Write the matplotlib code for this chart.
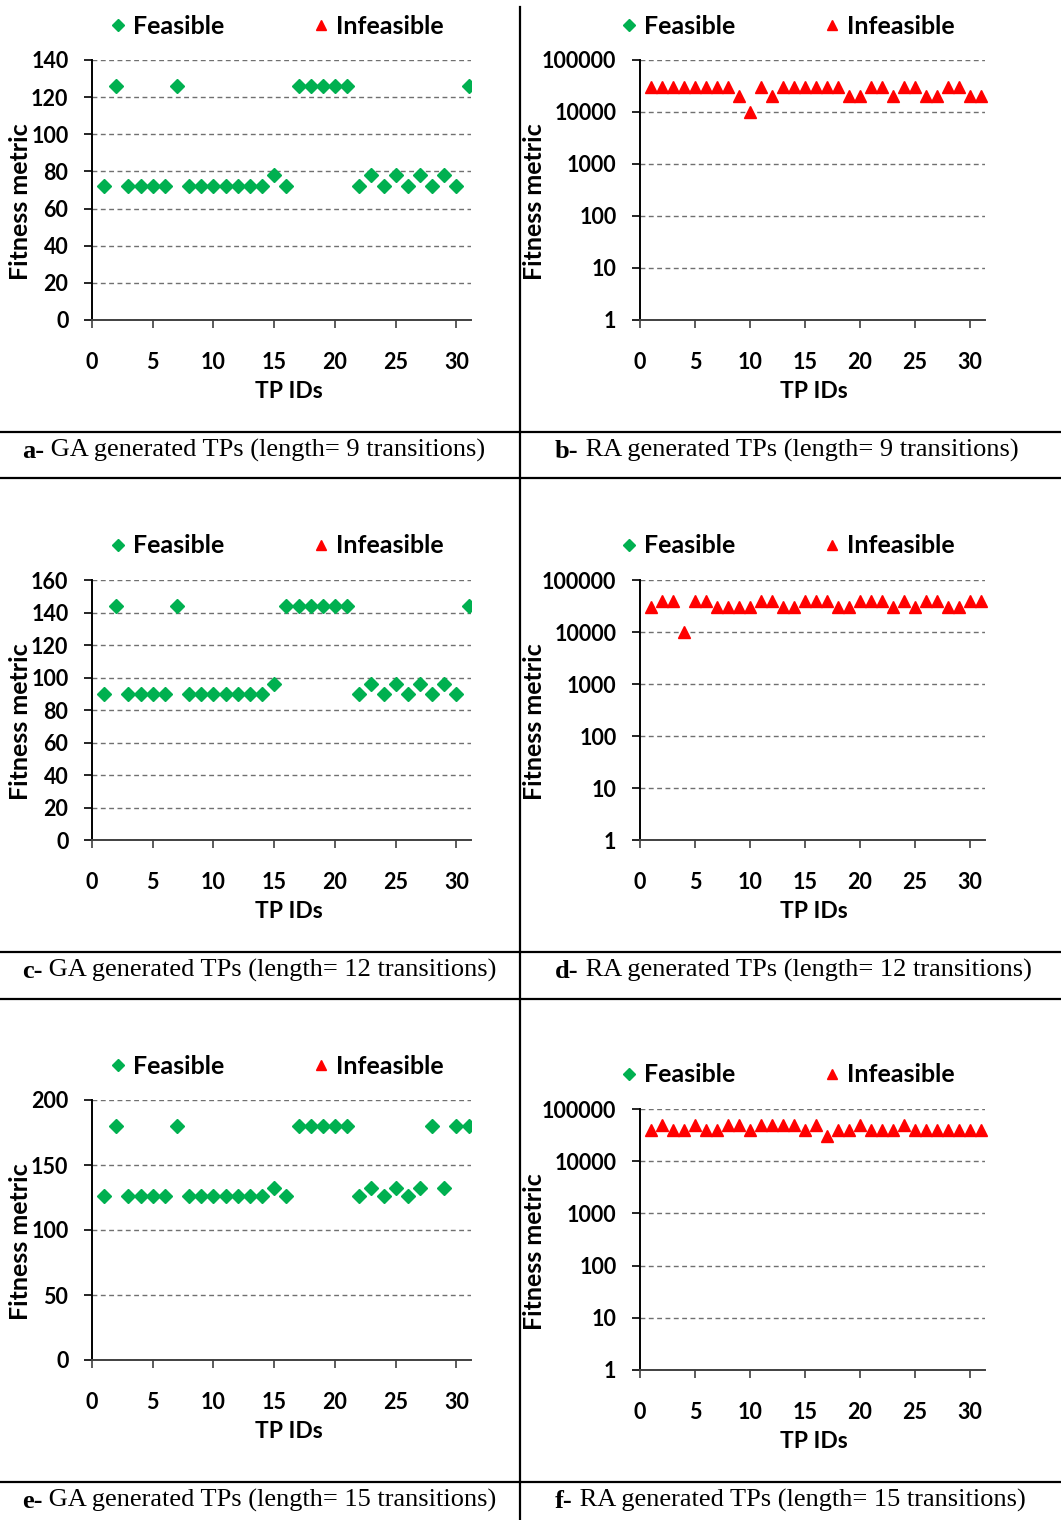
import matplotlib
matplotlib.use("Agg")
import matplotlib.pyplot as plt
from matplotlib.lines import Line2D
from matplotlib.ticker import FixedLocator, FixedFormatter

W, H = 1061, 1520

# ---- data ----
tp_ids = list(range(1, 32))

ga_9 = [72, 126, 72, 72, 72, 72, 126, 72, 72, 72, 72, 72, 72, 72, 78, 72,
        126, 126, 126, 126, 126, 72, 78, 72, 78, 72, 78, 72, 78, 72, 126]
ra_9 = [30000, 30000, 30000, 30000, 30000, 30000, 30000, 30000, 20000, 10000,
        30000, 20000, 30000, 30000, 30000, 30000, 30000, 30000, 20000, 20000,
        30000, 30000, 20000, 30000, 30000, 20000, 20000, 30000, 30000, 20000, 20000]

ga_12 = [90, 144, 90, 90, 90, 90, 144, 90, 90, 90, 90, 90, 90, 90, 96, 144,
         144, 144, 144, 144, 144, 90, 96, 90, 96, 90, 96, 90, 96, 90, 144]
ra_12 = [30000, 40000, 40000, 10000, 40000, 40000, 30000, 30000, 30000, 30000,
         40000, 40000, 30000, 30000, 40000, 40000, 40000, 30000, 30000, 40000,
         40000, 40000, 30000, 40000, 30000, 40000, 40000, 30000, 30000, 40000, 40000]

ga_15 = [126, 180, 126, 126, 126, 126, 180, 126, 126, 126, 126, 126, 126, 126, 132, 126,
         180, 180, 180, 180, 180, 126, 132, 126, 132, 126, 132, 180, 132, 180, 180]
ra_15 = [40000, 50000, 40000, 40000, 50000, 40000, 40000, 50000, 50000, 40000,
         50000, 50000, 50000, 50000, 40000, 50000, 30000, 40000, 40000, 50000,
         40000, 40000, 40000, 50000, 40000, 40000, 40000, 40000, 40000, 40000, 40000]

x_ticks = [0, 5, 10, 15, 20, 25, 30]
log_ticks = [1, 10, 100, 1000, 10000, 100000]
log_labels = ["1", "10", "100", "1000", "10000", "100000"]

captions = [
    ("a-", " GA generated TPs (length= 9 transitions)"),
    ("b-", " RA generated TPs (length= 9 transitions)"),
    ("c-", " GA generated TPs (length= 12 transitions)"),
    ("d-", " RA generated TPs (length= 12 transitions)"),
    ("e-", " GA generated TPs (length= 15 transitions)"),
    ("f-", " RA generated TPs (length= 15 transitions)"),
]

GREEN = "#00B050"
RED = "#FF0000"
CHART_FONT = "Lato"

fig = plt.figure(figsize=(W / 100, H / 100), dpi=100)


def px_axes(l, t, r, b):
    return fig.add_axes([l / W, 1 - b / H, (r - l) / W, (b - t) / H])


def style_axes(ax, xmax):
    ax.set_xlim(0, xmax)
    ax.set_xticks(x_ticks)
    for s in ("top", "right"):
        ax.spines[s].set_visible(False)
    ax.spines["left"].set_color("black")
    ax.spines["left"].set_linewidth(1.4)
    ax.spines["bottom"].set_color("#404040")
    ax.spines["bottom"].set_linewidth(1.4)
    ax.yaxis.grid(True, linestyle=(0, (3.5, 2.5)), color="#707070", linewidth=1.0)
    ax.set_axisbelow(True)
    ax.tick_params(axis="y", direction="out", length=6, width=1.2, pad=11,
                   labelsize=15.5, color="black")
    ax.tick_params(axis="x", direction="out", length=6, width=1.2, pad=17,
                   labelsize=15.5, color="#404040")
    ax.tick_params(which="minor", length=0)
    for lab in ax.get_xticklabels() + ax.get_yticklabels():
        lab.set_fontweight("bold")
        lab.set_fontfamily(CHART_FONT)


def add_legend(cx, cy):
    handles = [
        Line2D([], [], marker="D", color=GREEN, ls="none", markersize=6),
        Line2D([], [], marker="^", color=RED, ls="none", markersize=7),
    ]
    fig.legend(handles, ["Feasible", "Infeasible"], loc="center",
               bbox_to_anchor=(cx / W, 1 - cy / H), ncol=2, frameon=False,
               handlelength=0.6, handletextpad=0.3, columnspacing=3.6,
               prop={"family": CHART_FONT, "weight": "bold", "size": 18})


def labels(xl, yl_x, yl_y, xl_x, xl_y):
    fig.text(yl_x / W, 1 - yl_y / H, "Fitness metric", rotation=90,
             ha="center", va="center", fontsize=18, fontweight="bold",
             family=CHART_FONT)
    fig.text(xl_x / W, 1 - xl_y / H, xl, ha="center", va="center",
             fontsize=16.5, fontweight="bold", family=CHART_FONT)


def ga_panel(t, b, values, ymax, step):
    ax = px_axes(92, t, 471, b)
    ax.plot(tp_ids, values, ls="none", marker="D", color=GREEN, markersize=7.2)
    ax.set_ylim(0, ymax)
    ax.set_yticks(list(range(0, ymax + 1, step)))
    style_axes(ax, 31.2)
    return ax


def ra_panel(t, b, values):
    ax = px_axes(640, t, 985, b)
    ax.plot(tp_ids, values, ls="none", marker="^", color=RED, markersize=8.5,
            clip_on=False)
    ax.set_yscale("log")
    ax.set_ylim(1, 100000)
    ax.yaxis.set_major_locator(FixedLocator(log_ticks))
    ax.yaxis.set_major_formatter(FixedFormatter(log_labels))
    ax.yaxis.set_minor_locator(FixedLocator([]))
    style_axes(ax, 31.4)
    return ax


# row 1
ga_panel(60, 320, ga_9, 140, 20)
ra_panel(60, 320, ra_9)
add_legend(277, 26)
add_legend(788, 26)
labels("TP IDs", 21, 202, 289, 391)
labels("TP IDs", 534, 202, 814, 391)

# row 2
ga_panel(580, 840, ga_12, 160, 20)
ra_panel(580, 840, ra_12)
add_legend(277, 546)
add_legend(788, 546)
labels("TP IDs", 21, 722, 289, 911)
labels("TP IDs", 534, 722, 814, 911)

# row 3
ga_panel(1100, 1360, ga_15, 200, 50)
ra_panel(1109, 1370, ra_15)
add_legend(277, 1066)
add_legend(788, 1075)
labels("TP IDs", 21, 1242, 289, 1431)
labels("TP IDs", 534, 1252, 814, 1441)

# table rules
fig.add_artist(Line2D([520 / W, 520 / W], [1 - 7 / H, 0], color="black", lw=1.6))
for yy in [432, 478, 952, 999, 1482]:
    fig.add_artist(Line2D([0, 1], [1 - yy / H, 1 - yy / H], color="black", lw=1.6))

# captions: bold prefix + regular text
cap_pos = [(22, 451), (555, 451), (22, 971), (555, 971), (22, 1501), (555, 1501)]
for (bold, rest), (cx, cy) in zip(captions, cap_pos):
    t1 = fig.text(cx / W, 1 - cy / H, bold, ha="left", va="center",
                  fontsize=19, fontweight="bold", family="Liberation Serif")
    fig.axes[0].annotate(rest, xy=(1, 0), xycoords=t1, ha="left", va="bottom",
                         fontsize=19, family="Liberation Serif",
                         annotation_clip=False)

fig.savefig("out.png", dpi=100)
